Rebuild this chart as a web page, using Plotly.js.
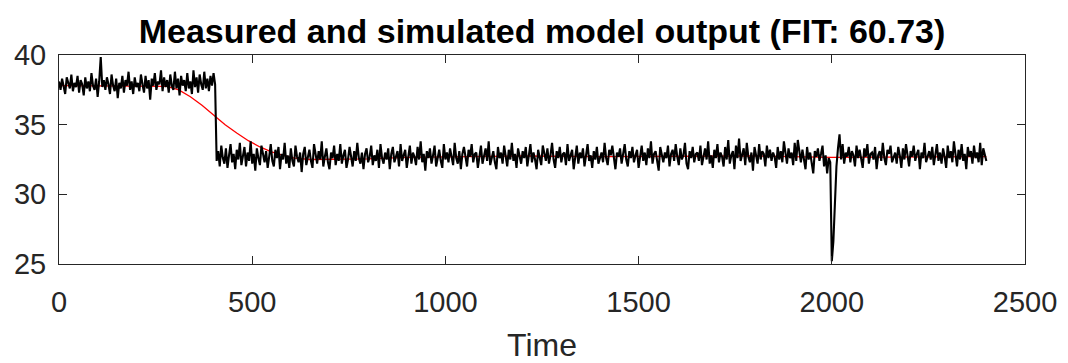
<!DOCTYPE html>
<html>
<head>
<meta charset="utf-8">
<script src="https://cdn.plot.ly/plotly-3.0.1.min.js"></script>
<style>
  html, body { margin: 0; padding: 0; background: #ffffff; }
  #chart { width: 1068px; height: 363px; }
</style>
</head>
<body>
<div id="chart"></div>
<script>
// Measured output, sampled every 4 time units starting at t = 0
const sampleStart = 0;
const sampleStep = 4;

// t = 0 .. 404 (before the step)
const measuredPre = [
  38.1,37.5,38.3,37.8,37.2,38.4,37.9,37.6,38.6,37.4,
  38.0,37.7,38.5,37.3,38.2,37.9,37.1,38.4,37.6,38.1,
  37.4,38.7,37.8,37.5,38.3,37.0,38.1,39.85,37.7,38.2,
  37.5,38.4,37.9,37.2,38.6,37.8,37.4,38.3,36.9,38.0,
  37.6,38.5,37.3,38.2,37.8,38.8,37.5,38.1,37.2,38.4,
  37.7,38.0,37.4,38.6,37.9,37.3,38.5,37.6,38.2,36.8,
  38.3,37.8,38.7,37.5,38.1,37.9,38.9,37.4,38.4,37.7,
  38.2,37.3,38.6,37.8,37.5,38.8,37.6,38.3,37.1,38.5,
  37.8,38.2,37.4,38.7,37.6,38.1,37.2,38.9,37.7,38.4,
  37.3,38.6,37.9,37.5,38.8,37.6,38.3,37.4,38.5,37.8,
  38.7,37.9
];

// t = 408 .. 2400 (after the step)
const measuredPost = [
  32.4,33.1,32.0,33.5,32.6,32.2,33.3,31.9,32.8,33.6,
  32.3,32.9,31.8,33.2,32.5,33.7,32.1,32.7,33.4,32.0,
  33.0,32.4,33.8,32.2,32.9,31.7,33.3,32.6,32.1,33.5,
  32.8,32.3,33.1,31.9,32.7,33.6,32.4,32.0,33.2,32.6,
  33.4,31.8,32.9,32.5,33.7,32.2,32.8,31.9,33.3,32.4,
  32.0,33.5,32.7,32.3,33.0,31.6,32.9,33.4,32.1,32.6,
  33.2,32.4,31.9,33.6,32.8,32.2,33.1,32.5,33.8,32.0,
  32.7,33.3,32.3,31.8,33.0,32.6,33.5,32.1,32.9,32.4,
  33.6,32.2,32.8,33.2,31.9,32.5,33.4,32.7,32.0,33.1,
  32.4,33.7,32.6,32.2,33.0,31.8,32.9,33.3,32.3,32.7,
  33.5,32.1,32.8,32.4,33.2,31.9,33.6,32.6,32.2,33.0,
  32.5,33.3,31.8,32.9,33.4,32.3,32.7,33.1,32.0,33.6,
  32.4,32.8,33.2,31.9,32.6,33.5,32.2,33.0,32.7,32.1,
  33.4,32.5,33.8,32.3,32.9,31.7,33.1,32.6,33.3,32.2,
  32.8,33.5,32.0,32.7,33.2,32.4,31.9,33.6,32.5,33.0,
  32.3,33.3,32.8,32.1,33.7,32.6,32.2,33.1,31.8,32.9,
  33.4,32.5,32.0,33.2,32.7,33.6,32.3,32.9,33.0,31.9,
  32.6,33.5,32.2,32.8,33.3,32.4,33.8,32.1,32.7,33.1,
  32.3,31.8,33.4,32.6,33.0,32.2,33.5,32.8,32.0,33.2,
  32.5,33.7,32.4,32.9,31.9,33.3,32.7,32.2,33.1,32.6,
  33.4,32.0,32.8,33.6,32.3,33.0,32.5,31.8,33.2,32.7,
  32.1,33.5,32.9,32.4,33.3,32.2,32.8,33.7,32.5,31.9,
  33.1,32.6,33.4,32.3,32.9,33.0,32.1,33.6,32.4,32.8,
  33.2,31.8,32.7,33.5,32.2,33.0,32.6,33.3,32.0,32.9,
  33.6,32.4,32.8,31.9,33.1,32.5,33.4,32.2,32.7,33.0,
  32.3,33.7,32.6,32.1,33.2,32.8,33.5,32.4,31.8,33.0,
  32.7,33.3,32.2,32.9,33.6,32.5,32.0,33.1,32.6,33.4,
  32.3,32.8,33.2,31.9,32.7,33.5,32.4,33.0,32.1,33.3,
  32.6,33.8,32.2,32.9,33.1,32.5,31.7,33.4,32.8,32.3,
  33.0,32.6,33.5,32.0,32.9,33.2,32.4,33.6,32.7,32.1,
  33.3,32.5,32.8,33.7,32.2,31.8,33.1,32.6,33.4,32.3,
  32.9,33.0,32.4,33.5,32.1,32.7,33.3,32.5,33.8,32.2,
  32.8,31.9,33.2,32.6,33.6,32.3,33.0,32.7,32.0,33.4,
  32.5,33.9,32.2,32.8,33.1,31.8,33.5,32.6,34.0,32.4,
  32.9,33.3,32.1,33.7,32.7,32.3,33.0,31.7,33.4,32.8,
  32.2,33.6,32.5,33.1,32.9,32.0,33.5,32.6,33.2,32.4,
  33.0,32.7,31.9,33.4,32.5,33.1,32.3,33.8,32.8,32.2,
  33.3,32.6,33.0,32.1,33.7,32.4,33.9,32.9,32.3,33.2,
  32.6,31.8,33.4,32.5,33.0,32.2,31.5,33.1,32.7,33.3,
  32.4,32.9,33.5,32.0,32.8,31.5,32.6,32.3,25.2,26.6,
  29.4,32.0,33.3,34.3,32.5,33.6,32.2,33.0,32.7,33.4,
  32.3,33.1,32.8,32.0,33.5,32.6,33.2,32.4,31.9,33.3,
  32.7,33.6,32.2,32.9,33.0,32.5,33.4,31.8,32.8,33.1,
  32.4,33.7,32.6,32.1,33.2,32.9,33.5,32.3,32.7,33.0,
  32.2,33.4,32.8,31.9,33.3,32.5,33.6,32.6,32.0,33.1,
  32.7,33.5,32.4,32.9,33.2,31.8,33.0,32.6,33.7,32.3,
  32.8,33.1,32.5,33.4,32.1,32.9,33.6,32.4,33.0,32.2,
  33.3,32.7,31.9,33.5,32.6,33.1,32.3,33.8,32.8,32.0,
  33.2,32.5,33.6,32.4,32.9,31.8,33.4,32.7,33.1,32.2,
  33.5,32.6,33.0,32.3,33.7,32.1,33.3,32.8,32.4
];

// Simulated model output (smooth red curve)
const simTime = [0,100,200,280,310,340,370,400,430,460,490,520,550,580,610,650,700,800,900,1000,1200,1400,1600,1800,2000,2200,2400];
const simValue = [37.8,37.8,37.8,37.75,37.5,37.0,36.4,35.7,35.0,34.4,33.85,33.4,33.05,32.8,32.6,32.5,32.5,32.55,32.65,32.7,32.75,32.7,32.7,32.75,32.65,32.7,32.7];

const xTicks = [0, 500, 1000, 1500, 2000, 2500];
const yTicks = [25, 30, 35, 40];
const titleText = 'Measured and simulated model output (FIT: 60.73)';
const xLabel = 'Time';

const measured = measuredPre.concat(measuredPost);

const axisColor = '#262626';
const fontFamily = '"Liberation Sans", Arial, Helvetica, sans-serif';

const traces = [
  {
    type: 'scatter', mode: 'lines',
    x: simTime, y: simValue,
    line: { color: '#ff0000', width: 1.3 },
    hoverinfo: 'skip', showlegend: false
  },
  {
    type: 'scatter', mode: 'lines',
    x0: sampleStart, dx: sampleStep, y: measured,
    line: { color: '#000000', width: 2.1 },
    hoverinfo: 'skip', showlegend: false
  }
];

const layout = {
  width: 1068, height: 363,
  margin: { l: 59, r: 43, t: 55, b: 99, pad: 0 },
  paper_bgcolor: '#ffffff', plot_bgcolor: '#ffffff',
  font: { family: fontFamily, color: axisColor },
  showlegend: false,
  title: {
    text: '<b>' + titleText + '</b>',
    font: { family: fontFamily, size: 34, color: '#000000' },
    x: 0.5, xref: 'paper', xanchor: 'center',
    y: 0.915, yref: 'container', yanchor: 'middle'
  },
  xaxis: {
    range: [0, 2500], tickvals: xTicks, ticktext: xTicks.map(String),
    ticks: 'inside', ticklen: 8, tickwidth: 1, tickcolor: axisColor,
    showline: true, linecolor: axisColor, linewidth: 1, mirror: 'ticks',
    showgrid: false, zeroline: false,
    tickfont: { family: fontFamily, size: 29, color: axisColor },
    ticklabelstandoff: 12,
    title: { text: xLabel, font: { family: fontFamily, size: 32, color: axisColor }, standoff: 22 }
  },
  yaxis: {
    range: [25, 40], tickvals: yTicks, ticktext: yTicks.map(String),
    ticks: 'inside', ticklen: 8, tickwidth: 1, tickcolor: axisColor,
    showline: true, linecolor: axisColor, linewidth: 1, mirror: 'ticks',
    showgrid: false, zeroline: false,
    tickfont: { family: fontFamily, size: 29, color: axisColor },
    ticklabelstandoff: 6
  }
};

Plotly.newPlot('chart', traces, layout, { staticPlot: true, displayModeBar: false });
</script>
</body>
</html>
